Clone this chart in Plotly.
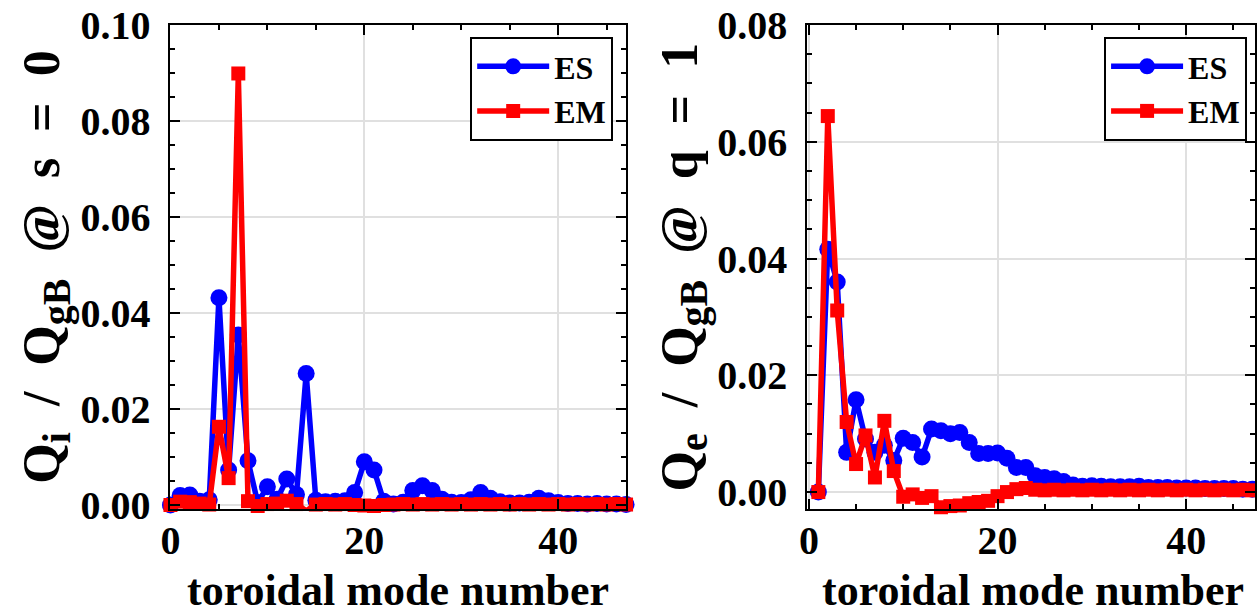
import plotly.graph_objects as go

# Toroidal mode numbers
n_left = list(range(0, 48))
n_right = list(range(1, 48))

# Ion heat flux spectrum at s = 0
qi_es = [0.0, 0.0020, 0.0021, 0.0008, 0.0011, 0.0432, 0.0073, 0.0354, 0.0092, 0.0005,
         0.0038, 0.0012, 0.0054, 0.0022, 0.0274, 0.0010, 0.0007, 0.0008, 0.0009, 0.0026,
         0.0090, 0.0073, 0.0008, 0.0002, 0.0006, 0.0030, 0.0040, 0.0030, 0.0012, 0.0006,
         0.0005, 0.0011, 0.0026, 0.0014, 0.0007, 0.0004, 0.0004, 0.0006, 0.0014, 0.0009,
         0.0005, 0.0003, 0.0003, 0.0002, 0.0003, 0.0002, 0.0002, 0.0001]
qi_em = [0.0, 0.0007, 0.0006, 0.0003, 0.0001, 0.0163, 0.0056, 0.0899, 0.0008, -0.0002,
         0.0002, 0.0003, 0.0009, 0.0002, -0.0012, 0.0001, 0.0002, 0.0001, 0.0002, 0.0000,
         -0.0001, -0.0002, 0.0000, 0.0001, 0.0002, 0.0001, 0.0002, 0.0001, 0.0002, 0.0001,
         0.0002, 0.0001, 0.0002, 0.0001, 0.0002, 0.0001, 0.0002, 0.0001, 0.0002, 0.0001,
         0.0002, 0.0001, 0.0002, 0.0001, 0.0002, 0.0001, 0.0002, 0.0001]

# Electron heat flux spectrum at q = 1
qe_es = [0.0, 0.0416, 0.0360, 0.0068, 0.0158, 0.0091, 0.0068, 0.0080, 0.0054, 0.0092,
         0.0085, 0.0060, 0.0108, 0.0105, 0.0100, 0.0102, 0.0085, 0.0066, 0.0066, 0.0067,
         0.0058, 0.0042, 0.0042, 0.0028, 0.0025, 0.0023, 0.0018, 0.0012, 0.0010, 0.0011,
         0.0010, 0.0009, 0.0009, 0.0009, 0.0010, 0.0008, 0.0008, 0.0008, 0.0007, 0.0007,
         0.0007, 0.0006, 0.0006, 0.0006, 0.0006, 0.0005, 0.0005]
qe_em = [0.0, 0.0644, 0.0311, 0.0120, 0.0048, 0.0097, 0.0025, 0.0122, 0.0036, -0.0008,
         -0.0004, -0.0010, -0.0007, -0.0026, -0.0024, -0.0023, -0.0019, -0.0017, -0.0015, -0.0007,
         0.0000, 0.0005, 0.0007, 0.0004, 0.0003, 0.0004, 0.0003, 0.0004, 0.0003, 0.0004,
         0.0003, 0.0004, 0.0003, 0.0004, 0.0003, 0.0004, 0.0003, 0.0004, 0.0003, 0.0004,
         0.0003, 0.0004, 0.0003, 0.0004, 0.0003, 0.0004, 0.0003]

W, H = 1257, 613
FONT = "Liberation Serif"
BLUE, RED = "#0000ff", "#ff0000"

fig = go.Figure()


def add_pair(x, es, em, xa, ya, legend):
    fig.add_trace(go.Scatter(
        x=x, y=es, name="ES", mode="lines+markers", xaxis=xa, yaxis=ya,
        line=dict(color=BLUE, width=5.5), legend=legend,
        marker=dict(symbol="circle", size=17, color=BLUE), cliponaxis=False))
    fig.add_trace(go.Scatter(
        x=x, y=em, name="EM", mode="lines+markers", xaxis=xa, yaxis=ya,
        line=dict(color=RED, width=5.5), legend=legend,
        marker=dict(symbol="square", size=14, color=RED), cliponaxis=False))


add_pair(n_left, qi_es, qi_em, "x", "y", "legend")
add_pair(n_right, qe_es, qe_em, "x2", "y2", "legend2")

tickfont = dict(family=FONT, size=40, color="black", weight="bold")


def xaxis(domain, rng, anchor):
    return dict(domain=domain, range=rng, anchor=anchor, dtick=20, tick0=0,
                ticks="inside", ticklen=10, tickwidth=2, tickcolor="black",
                showline=True, linewidth=2, linecolor="black", mirror="ticks",
                showgrid=True, gridcolor="#e0e0e0", gridwidth=1.5, zeroline=False,
                minor=dict(dtick=5, tick0=0, ticks="inside", ticklen=5,
                           tickwidth=2, tickcolor="black", showgrid=False),
                tickfont=tickfont, ticklabelstandoff=-5)


def yaxis(rng, anchor):
    return dict(domain=[0, 1], range=rng, anchor=anchor, dtick=0.02, tick0=0,
                tickformat=".2f", ticks="inside", ticklen=10, tickwidth=2,
                tickcolor="black", showline=True, linewidth=2, linecolor="black",
                mirror="ticks", showgrid=True, gridcolor="#e0e0e0", gridwidth=1.5,
                zeroline=False,
                minor=dict(dtick=0.005, tick0=0, ticks="inside", ticklen=5,
                           tickwidth=2, tickcolor="black", showgrid=False),
                tickfont=tickfont, ticklabelstandoff=10)


top, bottom = 25, 104
plot_h = H - top - bottom

legend_style = dict(font=dict(family=FONT, size=32, color="black", weight="bold"),
                    bgcolor="white", bordercolor="black", borderwidth=2,
                    itemwidth=72, xanchor="right", yanchor="top",
                    tracegroupgap=0)

fig.update_layout(
    width=W, height=H, paper_bgcolor="white", plot_bgcolor="white",
    margin=dict(l=0, r=0, t=top, b=bottom, pad=0),
    xaxis=xaxis([162 / W, 622 / W], [0, 47], "y"),
    yaxis=yaxis([-0.00083, 0.1], "x"),
    xaxis2=xaxis([805 / W, 1.0], [-0.17, 47.3], "y2"),
    yaxis2=yaxis([-0.0029, 0.08], "x2"),
    legend=dict(x=609 / W, y=1 - (37 - top) / plot_h, **legend_style),
    legend2=dict(x=1249 / W, y=1 - (37 - top) / plot_h, **legend_style),
    showlegend=True,
)

title_font = dict(family=FONT, size=52, color="black", weight="bold")
sub = '<sub><span style="font-size:40px">{}</span></sub>'
gap = "&nbsp;&nbsp;"
ylab_i = "Q" + sub.format("i") + gap + "/" + gap + "Q" + sub.format("gB") + gap + "@" + gap + "s" + gap + "=" + gap + "0"
ylab_e = "Q" + sub.format("e") + gap + "/" + gap + "Q" + sub.format("gB") + gap + "@" + gap + "q" + gap + "=" + gap + "1"
xlab_font = dict(family=FONT, size=44, color="black", weight="bold")
xlab_y = -(590 - (H - bottom)) / plot_h

annotations = [
    dict(text=ylab_i, x=36 / W, y=0.5, xref="paper", yref="paper", textangle=-90,
         showarrow=False, xanchor="center", yanchor="middle", font=title_font),
    dict(text=ylab_e, x=680 / W, y=0.5, xref="paper", yref="paper", textangle=-90,
         showarrow=False, xanchor="center", yanchor="middle", font=title_font),
    dict(text="toroidal mode number", x=392 / W, y=xlab_y, xref="paper", yref="paper",
         showarrow=False, xanchor="center", yanchor="middle", font=xlab_font),
    dict(text="toroidal mode number", x=1033 / W, y=xlab_y, xref="paper", yref="paper",
         showarrow=False, xanchor="center", yanchor="middle", font=xlab_font),
]
fig.update_layout(annotations=annotations)

fig.write_html("out.html")
